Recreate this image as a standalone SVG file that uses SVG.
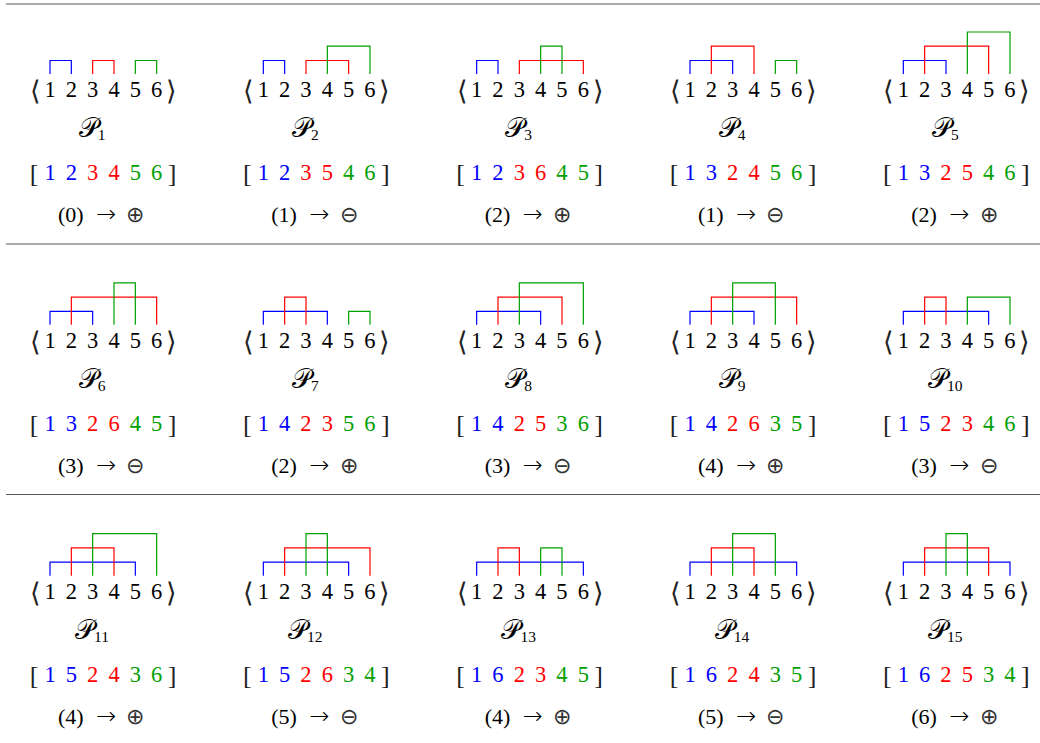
<svg xmlns="http://www.w3.org/2000/svg" xmlns:xlink="http://www.w3.org/1999/xlink" width="1040" height="743" viewBox="0 0 1040 743">
<style>
.n{font-family:"Liberation Serif","DejaVu Serif",serif;font-size:22.5px;text-anchor:middle;fill:#000}
.bt{font-family:"Liberation Serif","DejaVu Serif",serif;font-size:22px;text-anchor:middle;fill:#000}
.arr{font-family:"DejaVu Sans",sans-serif;font-size:24px;font-weight:200}
.br{font-family:"Liberation Serif","DejaVu Serif",serif;font-size:26px;text-anchor:middle;fill:#222}
.ang{font-family:"DejaVu Sans",sans-serif;font-weight:200;font-size:27px;text-anchor:middle;fill:#222}
.lab{font-family:"DejaVu Serif","DejaVu Sans","Noto Sans",serif;font-size:27px;text-anchor:middle;fill:#000}
.sub{font-size:15.5px;font-family:"Liberation Serif",serif}
.op{font-family:"DejaVu Sans",sans-serif;font-weight:200;font-size:22px;fill:#333}
.cb{fill:#0000ff}.cr{fill:#ff0000}.cg{fill:#00a000}
.arc{fill:none;stroke-width:1.2}
.ab{stroke:#0000ff}.ar{stroke:#ff0000}.ag{stroke:#00a000}
.rule{stroke:#555;stroke-width:1}
</style>
<defs>
<g id="seq">
<text class="ang" y="100"><tspan x="-14.5">⟨</tspan><tspan x="121.5">⟩</tspan></text>
<text class="n" y="97"><tspan x="0">1</tspan><tspan x="21.33">2</tspan><tspan x="42.67">3</tspan><tspan x="64">4</tspan><tspan x="85.33">5</tspan><tspan x="106.67">6</tspan></text>
<text class="br" y="182"><tspan x="-16">[</tspan><tspan x="122">]</tspan></text>
</g>
</defs>
<g id="rules">
<line class="rule" x1="6" y1="4" x2="1040" y2="4"/>
<line class="rule" x1="6" y1="244" x2="1040" y2="244"/>
<line class="rule" x1="6" y1="494.5" x2="1040" y2="494.5"/>
</g>
<g id="connectors">
<g transform="translate(50,0)"><polyline class="arc ab" points="0,74 0,60.5 21.33,60.5 21.33,74"/><polyline class="arc ar" points="42.67,74 42.67,60.5 64,60.5 64,74"/><polyline class="arc ag" points="85.33,74 85.33,60.5 106.67,60.5 106.67,74"/></g>
<g transform="translate(263.33,0)"><polyline class="arc ab" points="0,74 0,60.5 21.33,60.5 21.33,74"/><polyline class="arc ar" points="42.67,74 42.67,60.5 85.33,60.5 85.33,74"/><polyline class="arc ag" points="64,74 64,46.2 106.67,46.2 106.67,74"/></g>
<g transform="translate(476.67,0)"><polyline class="arc ab" points="0,74 0,60.5 21.33,60.5 21.33,74"/><polyline class="arc ar" points="42.67,74 42.67,60.5 106.67,60.5 106.67,74"/><polyline class="arc ag" points="64,74 64,46.2 85.33,46.2 85.33,74"/></g>
<g transform="translate(690,0)"><polyline class="arc ab" points="0,74 0,60.5 42.67,60.5 42.67,74"/><polyline class="arc ar" points="21.33,74 21.33,46.2 64,46.2 64,74"/><polyline class="arc ag" points="85.33,74 85.33,60.5 106.67,60.5 106.67,74"/></g>
<g transform="translate(903.33,0)"><polyline class="arc ab" points="0,74 0,60.5 42.67,60.5 42.67,74"/><polyline class="arc ar" points="21.33,74 21.33,46.2 85.33,46.2 85.33,74"/><polyline class="arc ag" points="64,74 64,32 106.67,32 106.67,74"/></g>
<g transform="translate(50,250.85)"><polyline class="arc ab" points="0,74 0,60.5 42.67,60.5 42.67,74"/><polyline class="arc ar" points="21.33,74 21.33,46.2 106.67,46.2 106.67,74"/><polyline class="arc ag" points="64,74 64,32 85.33,32 85.33,74"/></g>
<g transform="translate(263.33,250.85)"><polyline class="arc ab" points="0,74 0,60.5 64,60.5 64,74"/><polyline class="arc ar" points="21.33,74 21.33,46.2 42.67,46.2 42.67,74"/><polyline class="arc ag" points="85.33,74 85.33,60.5 106.67,60.5 106.67,74"/></g>
<g transform="translate(476.67,250.85)"><polyline class="arc ab" points="0,74 0,60.5 64,60.5 64,74"/><polyline class="arc ar" points="21.33,74 21.33,46.2 85.33,46.2 85.33,74"/><polyline class="arc ag" points="42.67,74 42.67,32 106.67,32 106.67,74"/></g>
<g transform="translate(690,250.85)"><polyline class="arc ab" points="0,74 0,60.5 64,60.5 64,74"/><polyline class="arc ar" points="21.33,74 21.33,46.2 106.67,46.2 106.67,74"/><polyline class="arc ag" points="42.67,74 42.67,32 85.33,32 85.33,74"/></g>
<g transform="translate(903.33,250.85)"><polyline class="arc ab" points="0,74 0,60.5 85.33,60.5 85.33,74"/><polyline class="arc ar" points="21.33,74 21.33,46.2 42.67,46.2 42.67,74"/><polyline class="arc ag" points="64,74 64,46.2 106.67,46.2 106.67,74"/></g>
<g transform="translate(50,501.7)"><polyline class="arc ab" points="0,74 0,60.5 85.33,60.5 85.33,74"/><polyline class="arc ar" points="21.33,74 21.33,46.2 64,46.2 64,74"/><polyline class="arc ag" points="42.67,74 42.67,32 106.67,32 106.67,74"/></g>
<g transform="translate(263.33,501.7)"><polyline class="arc ab" points="0,74 0,60.5 85.33,60.5 85.33,74"/><polyline class="arc ar" points="21.33,74 21.33,46.2 106.67,46.2 106.67,74"/><polyline class="arc ag" points="42.67,74 42.67,32 64,32 64,74"/></g>
<g transform="translate(476.67,501.7)"><polyline class="arc ab" points="0,74 0,60.5 106.67,60.5 106.67,74"/><polyline class="arc ar" points="21.33,74 21.33,46.2 42.67,46.2 42.67,74"/><polyline class="arc ag" points="64,74 64,46.2 85.33,46.2 85.33,74"/></g>
<g transform="translate(690,501.7)"><polyline class="arc ab" points="0,74 0,60.5 106.67,60.5 106.67,74"/><polyline class="arc ar" points="21.33,74 21.33,46.2 64,46.2 64,74"/><polyline class="arc ag" points="42.67,74 42.67,32 85.33,32 85.33,74"/></g>
<g transform="translate(903.33,501.7)"><polyline class="arc ab" points="0,74 0,60.5 106.67,60.5 106.67,74"/><polyline class="arc ar" points="21.33,74 21.33,46.2 85.33,46.2 85.33,74"/><polyline class="arc ag" points="42.67,74 42.67,32 64,32 64,74"/></g>
</g>
<g id="p1" transform="translate(50,0)"><use xlink:href="#seq"/><text class="lab" x="42" y="137">𝒫<tspan class="sub" dy="3">1</tspan></text><text class="n" y="180"><tspan x="0" class="cb">1</tspan><tspan x="21.33" class="cb">2</tspan><tspan x="42.67" class="cr">3</tspan><tspan x="64" class="cr">4</tspan><tspan x="85.33" class="cg">5</tspan><tspan x="106.67" class="cg">6</tspan></text><text class="bt" y="222"><tspan x="20.8">(0)</tspan><tspan x="56" class="arr">→</tspan><tspan x="85.3" class="op">⊕</tspan></text></g>
<g id="p2" transform="translate(263.33,0)"><use xlink:href="#seq"/><text class="lab" x="42" y="137">𝒫<tspan class="sub" dy="3">2</tspan></text><text class="n" y="180"><tspan x="0" class="cb">1</tspan><tspan x="21.33" class="cb">2</tspan><tspan x="42.67" class="cr">3</tspan><tspan x="64" class="cr">5</tspan><tspan x="85.33" class="cg">4</tspan><tspan x="106.67" class="cg">6</tspan></text><text class="bt" y="222"><tspan x="20.8">(1)</tspan><tspan x="56" class="arr">→</tspan><tspan x="85.3" class="op">⊖</tspan></text></g>
<g id="p3" transform="translate(476.67,0)"><use xlink:href="#seq"/><text class="lab" x="42" y="137">𝒫<tspan class="sub" dy="3">3</tspan></text><text class="n" y="180"><tspan x="0" class="cb">1</tspan><tspan x="21.33" class="cb">2</tspan><tspan x="42.67" class="cr">3</tspan><tspan x="64" class="cr">6</tspan><tspan x="85.33" class="cg">4</tspan><tspan x="106.67" class="cg">5</tspan></text><text class="bt" y="222"><tspan x="20.8">(2)</tspan><tspan x="56" class="arr">→</tspan><tspan x="85.3" class="op">⊕</tspan></text></g>
<g id="p4" transform="translate(690,0)"><use xlink:href="#seq"/><text class="lab" x="42" y="137">𝒫<tspan class="sub" dy="3">4</tspan></text><text class="n" y="180"><tspan x="0" class="cb">1</tspan><tspan x="21.33" class="cb">3</tspan><tspan x="42.67" class="cr">2</tspan><tspan x="64" class="cr">4</tspan><tspan x="85.33" class="cg">5</tspan><tspan x="106.67" class="cg">6</tspan></text><text class="bt" y="222"><tspan x="20.8">(1)</tspan><tspan x="56" class="arr">→</tspan><tspan x="85.3" class="op">⊖</tspan></text></g>
<g id="p5" transform="translate(903.33,0)"><use xlink:href="#seq"/><text class="lab" x="42" y="137">𝒫<tspan class="sub" dy="3">5</tspan></text><text class="n" y="180"><tspan x="0" class="cb">1</tspan><tspan x="21.33" class="cb">3</tspan><tspan x="42.67" class="cr">2</tspan><tspan x="64" class="cr">5</tspan><tspan x="85.33" class="cg">4</tspan><tspan x="106.67" class="cg">6</tspan></text><text class="bt" y="222"><tspan x="20.8">(2)</tspan><tspan x="56" class="arr">→</tspan><tspan x="85.3" class="op">⊕</tspan></text></g>
<g id="p6" transform="translate(50,250.85)"><use xlink:href="#seq"/><text class="lab" x="42" y="137">𝒫<tspan class="sub" dy="3">6</tspan></text><text class="n" y="180"><tspan x="0" class="cb">1</tspan><tspan x="21.33" class="cb">3</tspan><tspan x="42.67" class="cr">2</tspan><tspan x="64" class="cr">6</tspan><tspan x="85.33" class="cg">4</tspan><tspan x="106.67" class="cg">5</tspan></text><text class="bt" y="222"><tspan x="20.8">(3)</tspan><tspan x="56" class="arr">→</tspan><tspan x="85.3" class="op">⊖</tspan></text></g>
<g id="p7" transform="translate(263.33,250.85)"><use xlink:href="#seq"/><text class="lab" x="42" y="137">𝒫<tspan class="sub" dy="3">7</tspan></text><text class="n" y="180"><tspan x="0" class="cb">1</tspan><tspan x="21.33" class="cb">4</tspan><tspan x="42.67" class="cr">2</tspan><tspan x="64" class="cr">3</tspan><tspan x="85.33" class="cg">5</tspan><tspan x="106.67" class="cg">6</tspan></text><text class="bt" y="222"><tspan x="20.8">(2)</tspan><tspan x="56" class="arr">→</tspan><tspan x="85.3" class="op">⊕</tspan></text></g>
<g id="p8" transform="translate(476.67,250.85)"><use xlink:href="#seq"/><text class="lab" x="42" y="137">𝒫<tspan class="sub" dy="3">8</tspan></text><text class="n" y="180"><tspan x="0" class="cb">1</tspan><tspan x="21.33" class="cb">4</tspan><tspan x="42.67" class="cr">2</tspan><tspan x="64" class="cr">5</tspan><tspan x="85.33" class="cg">3</tspan><tspan x="106.67" class="cg">6</tspan></text><text class="bt" y="222"><tspan x="20.8">(3)</tspan><tspan x="56" class="arr">→</tspan><tspan x="85.3" class="op">⊖</tspan></text></g>
<g id="p9" transform="translate(690,250.85)"><use xlink:href="#seq"/><text class="lab" x="42" y="137">𝒫<tspan class="sub" dy="3">9</tspan></text><text class="n" y="180"><tspan x="0" class="cb">1</tspan><tspan x="21.33" class="cb">4</tspan><tspan x="42.67" class="cr">2</tspan><tspan x="64" class="cr">6</tspan><tspan x="85.33" class="cg">3</tspan><tspan x="106.67" class="cg">5</tspan></text><text class="bt" y="222"><tspan x="20.8">(4)</tspan><tspan x="56" class="arr">→</tspan><tspan x="85.3" class="op">⊕</tspan></text></g>
<g id="p10" transform="translate(903.33,250.85)"><use xlink:href="#seq"/><text class="lab" x="42" y="137">𝒫<tspan class="sub" dy="3">10</tspan></text><text class="n" y="180"><tspan x="0" class="cb">1</tspan><tspan x="21.33" class="cb">5</tspan><tspan x="42.67" class="cr">2</tspan><tspan x="64" class="cr">3</tspan><tspan x="85.33" class="cg">4</tspan><tspan x="106.67" class="cg">6</tspan></text><text class="bt" y="222"><tspan x="20.8">(3)</tspan><tspan x="56" class="arr">→</tspan><tspan x="85.3" class="op">⊖</tspan></text></g>
<g id="p11" transform="translate(50,501.7)"><use xlink:href="#seq"/><text class="lab" x="42" y="137">𝒫<tspan class="sub" dy="3">11</tspan></text><text class="n" y="180"><tspan x="0" class="cb">1</tspan><tspan x="21.33" class="cb">5</tspan><tspan x="42.67" class="cr">2</tspan><tspan x="64" class="cr">4</tspan><tspan x="85.33" class="cg">3</tspan><tspan x="106.67" class="cg">6</tspan></text><text class="bt" y="222"><tspan x="20.8">(4)</tspan><tspan x="56" class="arr">→</tspan><tspan x="85.3" class="op">⊕</tspan></text></g>
<g id="p12" transform="translate(263.33,501.7)"><use xlink:href="#seq"/><text class="lab" x="42" y="137">𝒫<tspan class="sub" dy="3">12</tspan></text><text class="n" y="180"><tspan x="0" class="cb">1</tspan><tspan x="21.33" class="cb">5</tspan><tspan x="42.67" class="cr">2</tspan><tspan x="64" class="cr">6</tspan><tspan x="85.33" class="cg">3</tspan><tspan x="106.67" class="cg">4</tspan></text><text class="bt" y="222"><tspan x="20.8">(5)</tspan><tspan x="56" class="arr">→</tspan><tspan x="85.3" class="op">⊖</tspan></text></g>
<g id="p13" transform="translate(476.67,501.7)"><use xlink:href="#seq"/><text class="lab" x="42" y="137">𝒫<tspan class="sub" dy="3">13</tspan></text><text class="n" y="180"><tspan x="0" class="cb">1</tspan><tspan x="21.33" class="cb">6</tspan><tspan x="42.67" class="cr">2</tspan><tspan x="64" class="cr">3</tspan><tspan x="85.33" class="cg">4</tspan><tspan x="106.67" class="cg">5</tspan></text><text class="bt" y="222"><tspan x="20.8">(4)</tspan><tspan x="56" class="arr">→</tspan><tspan x="85.3" class="op">⊕</tspan></text></g>
<g id="p14" transform="translate(690,501.7)"><use xlink:href="#seq"/><text class="lab" x="42" y="137">𝒫<tspan class="sub" dy="3">14</tspan></text><text class="n" y="180"><tspan x="0" class="cb">1</tspan><tspan x="21.33" class="cb">6</tspan><tspan x="42.67" class="cr">2</tspan><tspan x="64" class="cr">4</tspan><tspan x="85.33" class="cg">3</tspan><tspan x="106.67" class="cg">5</tspan></text><text class="bt" y="222"><tspan x="20.8">(5)</tspan><tspan x="56" class="arr">→</tspan><tspan x="85.3" class="op">⊖</tspan></text></g>
<g id="p15" transform="translate(903.33,501.7)"><use xlink:href="#seq"/><text class="lab" x="42" y="137">𝒫<tspan class="sub" dy="3">15</tspan></text><text class="n" y="180"><tspan x="0" class="cb">1</tspan><tspan x="21.33" class="cb">6</tspan><tspan x="42.67" class="cr">2</tspan><tspan x="64" class="cr">5</tspan><tspan x="85.33" class="cg">3</tspan><tspan x="106.67" class="cg">4</tspan></text><text class="bt" y="222"><tspan x="20.8">(6)</tspan><tspan x="56" class="arr">→</tspan><tspan x="85.3" class="op">⊕</tspan></text></g>
</svg>
